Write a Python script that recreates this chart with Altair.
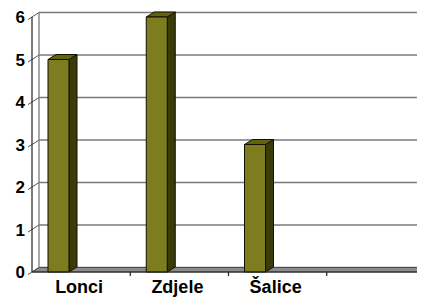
import altair as alt
import pandas as pd

# ---- data ----
categories = ["Lonci", "Zdjele", "Šalice", ""]
values = [5, 6, 3]
y_ticks = [0, 1, 2, 3, 4, 5, 6]

# ---- layout (pixels) ----
PX_X = 98.25                         # px per category
PX_Y = 42.5                          # px per value unit
W, H = 385, 259
X_MAX = W / PX_X
Y_MAX = H / PX_Y
def px_x(p): return p / PX_X
def px_y(p): return p / PX_Y

BAR_OFF = px_x(16)
BAR_W = px_x(21)
BAR_DX, BAR_DY = px_x(8), px_y(5)
WALL_DX, WALL_DY = px_x(7), px_y(4.5)
TICK = px_x(4)

FRONT = "#7d7d20"
TOP = "#62620f"
SIDE = "#3b3b0a"

xs = alt.Scale(domain=[0, X_MAX], nice=False, zero=False)
ys = alt.Scale(domain=[0, Y_MAX], nice=False, zero=False)
NX = alt.X("x:Q", scale=xs, axis=None)
NY = alt.Y("y:Q", scale=ys, axis=None)

n = len(categories)

# bars
front = pd.DataFrame({
    "x": [i + BAR_OFF for i in range(len(values))],
    "x2": [i + BAR_OFF + BAR_W for i in range(len(values))],
    "y": [0] * len(values), "y2": values})
side_rows, top_rows = [], []
for i, v in enumerate(values):
    xr = i + BAR_OFF + BAR_W
    side_rows += [{"id": i, "x": xr, "y": 0, "y2": v},
                  {"id": i, "x": xr + BAR_DX, "y": BAR_DY, "y2": v + BAR_DY}]
    top_rows += [{"id": i, "y": v, "x": i + BAR_OFF, "x2": xr},
                 {"id": i, "y": v + BAR_DY, "x": i + BAR_OFF + BAR_DX, "x2": xr + BAR_DX}]
side = pd.DataFrame(side_rows)
top = pd.DataFrame(top_rows)

# wall gridlines and side-wall diagonals
slope = WALL_DY / WALL_DX
grid = pd.DataFrame({"x": [WALL_DX] * len(y_ticks), "x2": [n + WALL_DX] * len(y_ticks),
                     "y": [t + WALL_DY for t in y_ticks]})
diag = pd.DataFrame({"x": [-TICK] * len(y_ticks), "x2": [WALL_DX] * len(y_ticks),
                     "y": [t - TICK * slope for t in y_ticks],
                     "y2": [t + WALL_DY for t in y_ticks]})
wall_edge = pd.DataFrame({"x": [WALL_DX], "y": [WALL_DY], "y2": [max(y_ticks) + WALL_DY]})
floor = pd.DataFrame([{"id": 0, "y": 0, "x": 0, "x2": n},
                      {"id": 0, "y": WALL_DY, "x": WALL_DX, "x2": n + WALL_DX}])
front_axis = pd.DataFrame({"x": [0], "y": [0], "y2": [max(y_ticks)]})
bottom_axis = pd.DataFrame({"x": [0], "x2": [n], "y": [0]})
xticks = pd.DataFrame({"x": list(range(1, n + 1)), "y": [0] * n, "y2": [-px_y(4)] * n})
xlabels = pd.DataFrame({"x": [i + 0.5 for i in range(len(values))], "y": [0] * len(values),
                        "t": categories[:len(values)]})
ylabels = pd.DataFrame({"x": [-TICK] * len(y_ticks), "y": y_ticks,
                        "t": [str(t) for t in y_ticks]})

grid_l = alt.Chart(grid).mark_rule(color="#7a7a7a", strokeWidth=1.3).encode(
    x=NX, x2="x2:Q", y=NY)
diag_l = alt.Chart(diag).mark_rule(color="#555555", strokeWidth=1).encode(
    x=NX, x2="x2:Q", y=NY, y2="y2:Q")
wall_l = alt.Chart(wall_edge).mark_rule(color="#7a7a7a", strokeWidth=1.3).encode(
    x=NX, y=NY, y2="y2:Q")
floor_l = alt.Chart(floor).mark_area(orient="horizontal", color="#8c8c8c",
                                     stroke="#4a4a4a", strokeWidth=1).encode(
    y=NY, x=NX, x2="x2:Q", detail="id:N")
side_l = alt.Chart(side).mark_area(color=SIDE, stroke="#111100", strokeWidth=1).encode(
    x=NX, y=NY, y2="y2:Q", detail="id:N")
top_l = alt.Chart(top).mark_area(orient="horizontal", color=TOP, stroke="#111100",
                                 strokeWidth=1).encode(
    y=NY, x=NX, x2="x2:Q", detail="id:N")
front_l = alt.Chart(front).mark_rect(color=FRONT, stroke="#111100", strokeWidth=1).encode(
    x=NX, x2="x2:Q", y=NY, y2="y2:Q")
faxis_l = alt.Chart(front_axis).mark_rule(color="#222222", strokeWidth=1.2).encode(
    x=NX, y=NY, y2="y2:Q")
baxis_l = alt.Chart(bottom_axis).mark_rule(color="#222222", strokeWidth=1.2).encode(
    x=NX, x2="x2:Q", y=NY)
xticks_l = alt.Chart(xticks).mark_rule(color="#222222", strokeWidth=1.2).encode(
    x=NX, y=NY, y2="y2:Q")
xlab_l = alt.Chart(xlabels).mark_text(
    font="Liberation Sans", fontWeight="bold", fontSize=18, color="#000000",
    align="center", baseline="top", dx=-2, dy=7).encode(x=NX, y=NY, text="t:N")
ylab_l = alt.Chart(ylabels).mark_text(
    font="Liberation Sans", fontWeight="bold", fontSize=17, color="#000000",
    align="right", baseline="middle", dx=-3, dy=1).encode(x=NX, y=NY, text="t:N")

chart = alt.layer(grid_l, floor_l, diag_l, wall_l, side_l, top_l, front_l,
                  faxis_l, baxis_l, xticks_l, xlab_l, ylab_l).properties(
    width=W, height=H,
    autosize=alt.AutoSizeParams(type="none"),
    padding={"left": 24, "top": 5, "right": 0, "bottom": 28},
    background="white",
).configure_view(stroke=None)

chart.save("out.html", embed_options={"renderer": "svg", "actions": False})
